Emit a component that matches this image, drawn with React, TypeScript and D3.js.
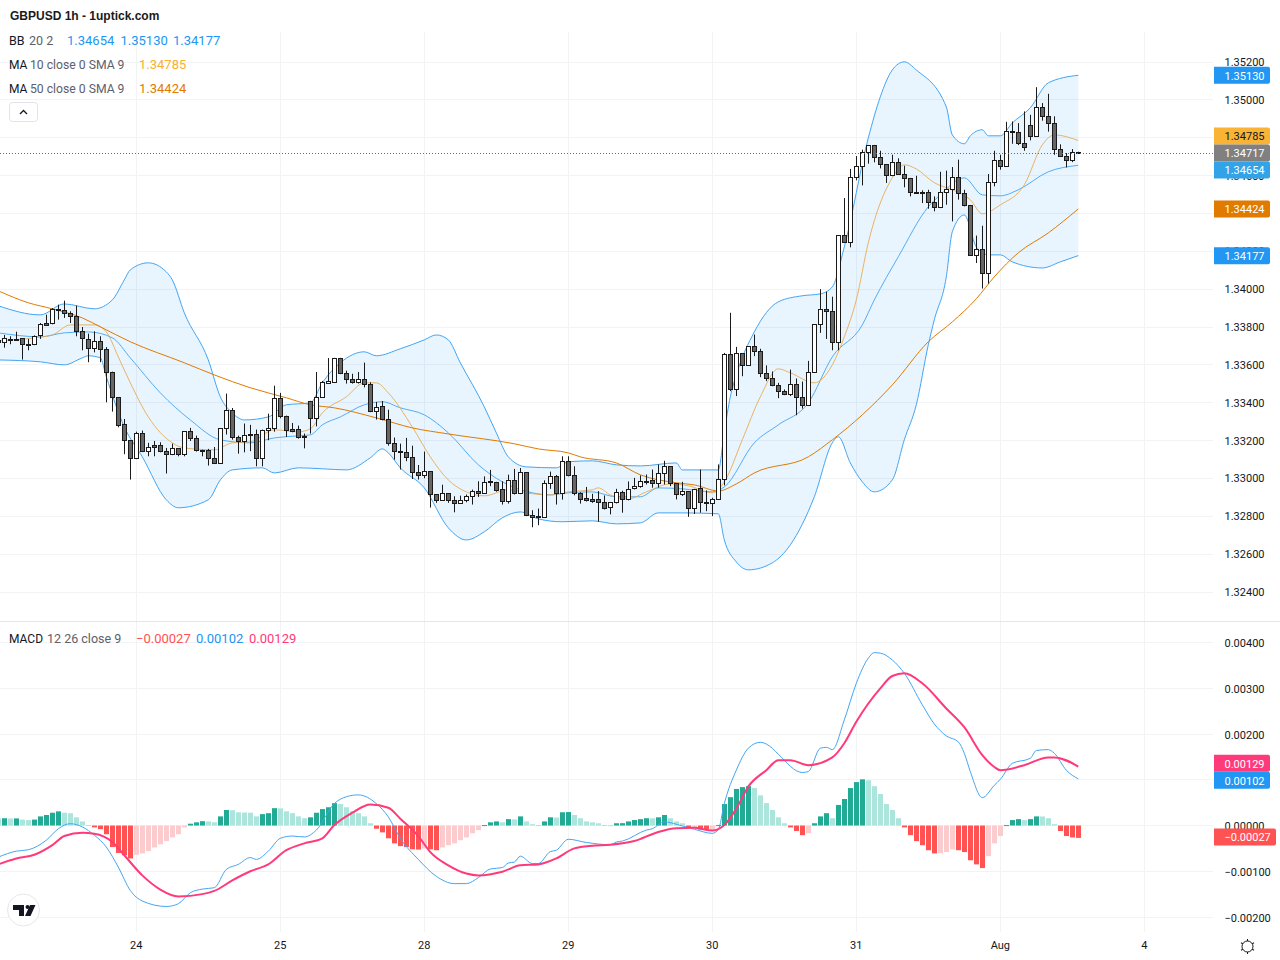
import { useEffect, useRef } from 'react';
import * as d3 from 'd3';

type Candle = [number, number, number, number];
type LinePoint = [number, number];

// open, high, low, close, hourly, starting one bar left of the frame
const candles: Candle[] = [
  [1.33730, 1.33745, 1.33700, 1.33716],
  [1.33716, 1.33758, 1.33691, 1.33737], [1.33735, 1.33751, 1.33709, 1.33732], [1.33732, 1.33775, 1.33730, 1.33735], [1.33737, 1.33738, 1.33628, 1.33705],
  [1.33705, 1.33737, 1.33677, 1.33703], [1.33705, 1.33756, 1.33704, 1.33751], [1.33753, 1.33821, 1.33737, 1.33811], [1.33816, 1.33865, 1.33808, 1.33810],
  [1.33816, 1.33900, 1.33814, 1.33895], [1.33895, 1.33918, 1.33839, 1.33890], [1.33888, 1.33939, 1.33848, 1.33869], [1.33869, 1.33883, 1.33821, 1.33858],
  [1.33856, 1.33913, 1.33751, 1.33774], [1.33774, 1.33800, 1.33677, 1.33737], [1.33735, 1.33765, 1.33614, 1.33684], [1.33684, 1.33777, 1.33666, 1.33726],
  [1.33726, 1.33751, 1.33614, 1.33679], [1.33679, 1.33694, 1.33402, 1.33557], [1.33557, 1.33564, 1.33353, 1.33425], [1.33425, 1.33426, 1.33270, 1.33281],
  [1.33283, 1.33314, 1.33128, 1.33198], [1.33198, 1.33199, 1.32994, 1.33103], [1.33103, 1.33247, 1.33102, 1.33240], [1.33239, 1.33253, 1.33139, 1.33140],
  [1.33140, 1.33188, 1.33117, 1.33166], [1.33174, 1.33198, 1.33117, 1.33166], [1.33172, 1.33191, 1.33138, 1.33140], [1.33140, 1.33161, 1.33026, 1.33124],
  [1.33124, 1.33184, 1.33123, 1.33156], [1.33156, 1.33161, 1.33117, 1.33124], [1.33124, 1.33247, 1.33117, 1.33246], [1.33246, 1.33267, 1.33198, 1.33209],
  [1.33209, 1.33226, 1.33142, 1.33145], [1.33145, 1.33152, 1.33117, 1.33143], [1.33145, 1.33156, 1.33068, 1.33103], [1.33103, 1.33166, 1.33076, 1.33077],
  [1.33077, 1.33263, 1.33076, 1.33262], [1.33262, 1.33448, 1.33232, 1.33357], [1.33357, 1.33372, 1.33205, 1.33214], [1.33214, 1.33226, 1.33131, 1.33193],
  [1.33193, 1.33290, 1.33138, 1.33225], [1.33225, 1.33283, 1.33144, 1.33230], [1.33230, 1.33258, 1.33064, 1.33103], [1.33103, 1.33258, 1.33064, 1.33251],
  [1.33251, 1.33342, 1.33202, 1.33265], [1.33265, 1.33490, 1.33247, 1.33420], [1.33420, 1.33452, 1.33318, 1.33325], [1.33325, 1.33332, 1.33219, 1.33251],
  [1.33256, 1.33293, 1.33244, 1.33249], [1.33256, 1.33279, 1.33210, 1.33214], [1.33214, 1.33237, 1.33159, 1.33224], [1.33409, 1.33410, 1.33237, 1.33314],
  [1.33314, 1.33562, 1.33275, 1.33430], [1.33430, 1.33515, 1.33429, 1.33509], [1.33504, 1.33636, 1.33503, 1.33511], [1.33509, 1.33637, 1.33508, 1.33636],
  [1.33636, 1.33637, 1.33551, 1.33552], [1.33552, 1.33569, 1.33501, 1.33525], [1.33525, 1.33553, 1.33501, 1.33509], [1.33508, 1.33562, 1.33501, 1.33525],
  [1.33525, 1.33612, 1.33481, 1.33494], [1.33494, 1.33508, 1.33350, 1.33351], [1.33351, 1.33404, 1.33311, 1.33376], [1.33378, 1.33409, 1.33307, 1.33309],
  [1.33309, 1.33363, 1.33173, 1.33186], [1.33187, 1.33216, 1.33099, 1.33140], [1.33142, 1.33184, 1.33047, 1.33135], [1.33135, 1.33214, 1.33091, 1.33108],
  [1.33108, 1.33173, 1.32997, 1.33029], [1.33029, 1.33071, 1.32994, 1.33017], [1.33017, 1.33142, 1.33001, 1.33034], [1.33034, 1.33035, 1.32846, 1.32913],
  [1.32913, 1.32914, 1.32871, 1.32885], [1.32886, 1.32967, 1.32885, 1.32918], [1.32918, 1.32923, 1.32871, 1.32886], [1.32886, 1.32906, 1.32821, 1.32869],
  [1.32869, 1.32909, 1.32868, 1.32886], [1.32886, 1.32915, 1.32874, 1.32902], [1.32902, 1.32941, 1.32862, 1.32929], [1.32930, 1.32985, 1.32902, 1.32923],
  [1.32923, 1.33011, 1.32922, 1.32981], [1.32981, 1.33045, 1.32959, 1.32983], [1.32981, 1.32982, 1.32930, 1.32937], [1.32939, 1.32985, 1.32862, 1.32876],
  [1.32876, 1.33020, 1.32867, 1.32987], [1.32987, 1.33050, 1.32915, 1.32918], [1.32918, 1.33055, 1.32917, 1.33029], [1.33029, 1.33034, 1.32801, 1.32802],
  [1.32802, 1.32832, 1.32742, 1.32795], [1.32799, 1.32841, 1.32753, 1.32795], [1.32795, 1.32990, 1.32794, 1.32974], [1.32974, 1.33036, 1.32945, 1.33008],
  [1.33008, 1.33018, 1.32862, 1.32918], [1.32918, 1.33117, 1.32888, 1.33092], [1.33092, 1.33117, 1.33011, 1.33015], [1.33013, 1.33064, 1.32911, 1.32918],
  [1.32918, 1.32927, 1.32867, 1.32890], [1.32892, 1.32955, 1.32878, 1.32881], [1.32887, 1.32919, 1.32871, 1.32880], [1.32887, 1.32933, 1.32771, 1.32871],
  [1.32871, 1.32910, 1.32836, 1.32843], [1.32845, 1.32872, 1.32810, 1.32871], [1.32871, 1.32945, 1.32868, 1.32924], [1.32924, 1.32935, 1.32819, 1.32887],
  [1.32887, 1.32984, 1.32884, 1.32944], [1.32945, 1.33003, 1.32942, 1.32956], [1.32956, 1.33016, 1.32951, 1.32982], [1.32986, 1.33021, 1.32968, 1.32981],
  [1.32988, 1.33047, 1.32951, 1.32972], [1.32972, 1.33074, 1.32951, 1.33025], [1.33025, 1.33093, 1.32968, 1.33061], [1.33061, 1.33062, 1.32959, 1.32972],
  [1.32972, 1.32973, 1.32889, 1.32914], [1.32914, 1.32982, 1.32907, 1.32929], [1.32929, 1.32933, 1.32797, 1.32840], [1.32840, 1.32945, 1.32812, 1.32944],
  [1.32945, 1.33047, 1.32819, 1.32871], [1.32871, 1.32937, 1.32827, 1.32866], [1.32866, 1.32898, 1.32801, 1.32891], [1.32891, 1.33074, 1.32889, 1.32993],
  [1.32993, 1.33663, 1.32963, 1.33653], [1.33653, 1.33875, 1.33461, 1.33468], [1.33468, 1.33695, 1.33435, 1.33658], [1.33658, 1.33659, 1.33540, 1.33595],
  [1.33595, 1.33699, 1.33594, 1.33695], [1.33695, 1.33760, 1.33646, 1.33669], [1.33669, 1.33685, 1.33535, 1.33553], [1.33553, 1.33597, 1.33514, 1.33526],
  [1.33526, 1.33565, 1.33487, 1.33489], [1.33489, 1.33505, 1.33424, 1.33457], [1.33457, 1.33470, 1.33440, 1.33445], [1.33445, 1.33575, 1.33435, 1.33494],
  [1.33494, 1.33528, 1.33334, 1.33426], [1.33426, 1.33512, 1.33369, 1.33384], [1.33384, 1.33621, 1.33383, 1.33558], [1.33558, 1.33812, 1.33557, 1.33811],
  [1.33811, 1.34000, 1.33769, 1.33890], [1.33890, 1.33987, 1.33737, 1.33880], [1.33880, 1.33960, 1.33677, 1.33716], [1.33716, 1.34284, 1.33677, 1.34283],
  [1.34283, 1.34481, 1.34244, 1.34249], [1.34249, 1.34635, 1.34221, 1.34592], [1.34592, 1.34703, 1.34575, 1.34650], [1.34650, 1.34737, 1.34548, 1.34723],
  [1.34723, 1.34762, 1.34663, 1.34761], [1.34761, 1.34762, 1.34670, 1.34698], [1.34698, 1.34731, 1.34638, 1.34656], [1.34656, 1.34657, 1.34561, 1.34598],
  [1.34598, 1.34710, 1.34597, 1.34671], [1.34671, 1.34691, 1.34603, 1.34608], [1.34608, 1.34652, 1.34538, 1.34587], [1.34587, 1.34588, 1.34490, 1.34508],
  [1.34509, 1.34599, 1.34504, 1.34506], [1.34513, 1.34522, 1.34455, 1.34506], [1.34513, 1.34525, 1.34425, 1.34460], [1.34460, 1.34490, 1.34411, 1.34429],
  [1.34429, 1.34620, 1.34428, 1.34513], [1.34513, 1.34626, 1.34446, 1.34524], [1.34524, 1.34645, 1.34358, 1.34592], [1.34592, 1.34684, 1.34473, 1.34503],
  [1.34503, 1.34525, 1.34437, 1.34444], [1.34444, 1.34445, 1.34179, 1.34180], [1.34180, 1.34283, 1.34138, 1.34207], [1.34207, 1.34335, 1.34003, 1.34085],
  [1.34085, 1.34608, 1.34029, 1.34566], [1.34566, 1.34731, 1.34543, 1.34682], [1.34682, 1.34710, 1.34631, 1.34650], [1.34650, 1.34884, 1.34649, 1.34835],
  [1.34835, 1.34886, 1.34768, 1.34830], [1.34830, 1.34877, 1.34761, 1.34767], [1.34767, 1.34939, 1.34731, 1.34749], [1.34862, 1.34921, 1.34786, 1.34809],
  [1.34809, 1.35067, 1.34808, 1.34957], [1.34957, 1.34983, 1.34890, 1.34914], [1.34914, 1.35032, 1.34832, 1.34877], [1.34877, 1.34913, 1.34710, 1.34740],
  [1.34740, 1.34765, 1.34698, 1.34703], [1.34703, 1.34719, 1.34643, 1.34677], [1.34677, 1.34740, 1.34671, 1.34724], [1.34724, 1.34726, 1.34714, 1.34717],
];

const bbUpper: LinePoint[] = [
  [-1, 1.33912], [6, 1.33864], [10, 1.33922], [15, 1.33896], [18, 1.33943], [20, 1.34049], [21, 1.34102], [24, 1.34139], [27, 1.34091], [28, 1.34049],
  [30, 1.33875], [34, 1.33626], [36, 1.33431], [38, 1.33346], [40, 1.33309], [44, 1.33325], [47, 1.33389], [51, 1.33399], [53, 1.33505], [56, 1.33611],
  [60, 1.33669], [62, 1.33648], [66, 1.33685], [70, 1.33732], [72, 1.33758], [74, 1.33732], [76, 1.33611], [80, 1.33378], [82, 1.33241], [84, 1.33114],
  [87, 1.33061], [92, 1.33056], [94, 1.33088], [98, 1.33093], [102, 1.33072], [106, 1.33066], [112, 1.33082], [113, 1.33045], [119, 1.33045], [120, 1.33246],
  [121, 1.33431], [122, 1.33547], [125, 1.33774], [129, 1.33933], [133, 1.33965], [136, 1.33975], [138, 1.34012], [140, 1.34223], [144, 1.34799], [146, 1.35016],
  [148, 1.35158], [150, 1.35201], [152, 1.35158], [157, 1.34963], [158, 1.34815], [160, 1.34768], [161, 1.34810], [163, 1.34842], [164, 1.34810], [166, 1.34810],
  [168, 1.34878], [171, 1.34958], [174, 1.35090], [179, 1.35130],
];
const bbLower: LinePoint[] = [
  [-1, 1.33626], [6, 1.33616], [10, 1.33600], [13, 1.33637], [14, 1.33648], [16, 1.33637], [17, 1.33537], [20, 1.33272], [23, 1.33114], [27, 1.32887],
  [29, 1.32845], [34, 1.32887], [36, 1.32992], [38, 1.33045], [43, 1.33056], [45, 1.33029], [49, 1.33056], [53, 1.33051], [57, 1.33045], [61, 1.33109],
  [63, 1.33156], [64, 1.33135], [66, 1.33056], [70, 1.32950], [74, 1.32739], [77, 1.32675], [80, 1.32718], [83, 1.32792], [86, 1.32823], [89, 1.32786],
  [93, 1.32771], [98, 1.32776], [102, 1.32760], [106, 1.32765], [109, 1.32818], [113, 1.32818], [119, 1.32813], [120, 1.32675], [122, 1.32559], [124, 1.32517],
  [128, 1.32554], [131, 1.32649], [135, 1.32903], [138, 1.33188], [139, 1.33220], [141, 1.33082], [143, 1.32982], [145, 1.32929], [148, 1.32992], [150, 1.33204],
  [152, 1.33389], [154, 1.33706], [155, 1.33838], [157, 1.34065], [158, 1.34303], [160, 1.34392], [162, 1.34223], [164, 1.34181], [166, 1.34181], [168, 1.34144],
  [173, 1.34112], [176, 1.34144], [179, 1.34177],
];
const bbBasis: LinePoint[] = [
  [-1, 1.33769], [6, 1.33748], [10, 1.33769], [14, 1.33774], [18, 1.33743], [21, 1.33637], [26, 1.33452], [31, 1.33309], [36, 1.33204], [41, 1.33188],
  [45, 1.33214], [49, 1.33225], [51, 1.33230], [53, 1.33283], [56, 1.33325], [60, 1.33389], [63, 1.33405], [66, 1.33373], [70, 1.33336], [74, 1.33241],
  [79, 1.33072], [83, 1.32982], [88, 1.32924], [91, 1.32913], [94, 1.32924], [98, 1.32929], [102, 1.32903], [106, 1.32903], [109, 1.32950], [113, 1.32945],
  [118, 1.32929], [120, 1.32955], [125, 1.33188], [129, 1.33283], [134, 1.33399], [138, 1.33642], [143, 1.33811], [145, 1.33943], [149, 1.34171], [154, 1.34435],
  [156, 1.34498], [160, 1.34588], [163, 1.34498], [166, 1.34493], [169, 1.34525], [174, 1.34620], [179, 1.34654],
];
const ma10: LinePoint[] = [
  [-1, 1.33727], [5, 1.33743], [8, 1.33758], [11, 1.33811], [15, 1.33811], [17, 1.33774], [19, 1.33642], [21, 1.33505], [24, 1.33325], [28, 1.33188],
  [30, 1.33161], [35, 1.33151], [38, 1.33188], [41, 1.33193], [45, 1.33257], [49, 1.33246], [51, 1.33262], [53, 1.33346], [57, 1.33431], [60, 1.33505],
  [62, 1.33505], [64, 1.33452], [68, 1.33272], [71, 1.33114], [74, 1.32992], [77, 1.32929], [80, 1.32908], [84, 1.32940], [88, 1.32919], [91, 1.32913],
  [94, 1.32929], [98, 1.32940], [99, 1.32950], [101, 1.32913], [104, 1.32892], [107, 1.32929], [111, 1.32971], [114, 1.32961], [118, 1.32924], [120, 1.32982],
  [123, 1.33204], [126, 1.33431], [129, 1.33579], [131, 1.33558], [135, 1.33505], [138, 1.33600], [140, 1.33748], [142, 1.33943], [144, 1.34245], [148, 1.34588],
  [150, 1.34657], [152, 1.34635], [155, 1.34562], [158, 1.34525], [161, 1.34472], [163, 1.34398], [166, 1.34445], [170, 1.34551], [173, 1.34762], [175, 1.34815],
  [179, 1.34785],
];
const ma50: LinePoint[] = [
  [-1, 1.33991], [4, 1.33928], [8, 1.33896], [13, 1.33848], [16, 1.33801], [21, 1.33722], [30, 1.33611], [35, 1.33547], [41, 1.33479], [47, 1.33426],
  [51, 1.33389], [55, 1.33373], [62, 1.33320], [68, 1.33267], [74, 1.33235], [85, 1.33183], [89, 1.33156], [94, 1.33135], [96, 1.33114], [102, 1.33082],
  [106, 1.33019], [112, 1.32977], [115, 1.32966], [119, 1.32934], [122, 1.32971], [125, 1.33029], [134, 1.33114], [138, 1.33204], [143, 1.33336], [148, 1.33494],
  [154, 1.33722], [158, 1.33827], [162, 1.33949], [165, 1.34065], [169, 1.34192], [174, 1.34297], [179, 1.34424],
];

// MACD pane, everything in units of 0.00001
const histogram = [
  15.3, 16, 15.3, 15.6, 13, 12, 13, 20, 23, 28, 31, 28, 27, 18, 9, 1, -4, -8, -19, -47, -60, -65, -72, -64, -61, -56, -48, -41, -34, -26, -19, -4,
  4, 7, 9.5, 9, 7, 20, 34, 33.5, 29, 28.5, 28, 20, 25, 27, 38, 37.5, 31, 27, 20, 16, 18, 28, 36, 40, 49, 47, 40, 31, 27, 20, 5,
  -7, -15, -28, -39, -45, -47, -52, -52.5, -50, -52, -54, -48, -43, -39, -32, -26, -17, -10,
  1, 7, 9, 7, 14, 13.5, 20, 9, 3, 1, 9, 18, 17.5, 29, 29.5, 23, 16, 9, 7, 5, 1, 0.8, 5, 5.2, 9, 12, 14, 16, 15.8, 18, 23, 16, 9, 5,
  -4, -3.8, -9, -9.2, -9, 1, 47, 62, 80, 84, 86, 82, 66, 49, 34, 18, 5, -4, -12, -21, -17,
  5, 20, 27, 16, 45, 58, 82, 95, 101, 99, 86, 69, 47, 34, 16,
  -4, -21, -34, -43, -54, -61, -60.5, -58, -52, -54, -58, -76, -85, -93, -67, -39, -23,
  1, 12, 14, 12, 14, 20, 19.8, 16, 3, -12, -23, -26, -27,
];
const macdLine: LinePoint[] = [
  [-1, -69], [2, -56], [4, -53], [7, -32], [9, -7], [11, 4], [13, -3], [15, -21], [17, -47], [19, -91], [21, -142], [23, -165], [27, -177], [29, -171],
  [31, -147], [33, -139], [35, -136], [37, -96], [39, -85], [41, -70], [42, -74], [44, -56], [46, -28], [48, -23], [50, -25], [52, -10], [55, 48], [57, 63],
  [59, 67], [62, 48], [64, 19], [66, -28], [69, -74], [72, -111], [75, -127], [77, -127], [79, -114], [81, -95], [83, -92], [84, -82], [85, -80], [86, -67],
  [88, -83], [89, -83], [91, -57], [92, -54], [94, -30], [97, -37], [101, -42], [102, -36], [103, -34], [107, -10], [108, -7], [110, 8], [113, -1], [115, -8],
  [118, -17], [119, -9], [120, 48], [122, 121], [124, 169], [126, 182], [128, 169], [129, 156], [133, 116], [134, 118], [136, 169], [137, 171], [138, 166],
  [140, 231], [142, 311], [144, 366], [145, 378], [146, 377], [148, 362], [150, 333], [153, 264], [155, 222], [157, 196], [159, 183], [160, 158], [161, 118],
  [163, 61], [165, 88], [166, 101], [168, 136], [171, 147], [172, 164], [174, 166], [175, 158], [177, 121], [179, 102],
];
const signalLine: LinePoint[] = [
  [-1, -85], [2, -72], [5, -64], [8, -43], [10, -23], [13, -16], [15, -18], [18, -36], [20, -65], [23, -109], [26, -140], [29, -155], [33, -150], [35, -143],
  [38, -120], [41, -100], [44, -85], [47, -54], [50, -39], [53, -28], [55, 1], [58, 28], [61, 46], [64, 39], [66, 15], [69, -23], [71, -58], [74, -87], [77, -105],
  [79, -109], [83, -101], [86, -87], [89, -85], [92, -72], [95, -50], [98, -44], [101, -42], [105, -34], [109, -14], [112, -6], [115, -5], [118, -11], [120, 1],
  [122, 37], [124, 85], [127, 121], [129, 143], [131, 143], [134, 132], [138, 149], [140, 180], [142, 227], [146, 300], [148, 327], [150, 333], [153, 311],
  [157, 256], [160, 215], [163, 154], [165, 128], [166, 121], [170, 132], [174, 149], [175, 149], [179, 129],
];

const priceTicks = [1.352, 1.35, 1.348, 1.346, 1.344, 1.342, 1.34, 1.338, 1.336, 1.334, 1.332, 1.33, 1.328, 1.326, 1.324];
const macdTicks = [0.004, 0.003, 0.002, 0.001, 0, -0.001, -0.002];
const timeTicks: [number, string][] = [[22, '24'], [46, '25'], [70, '28'], [94, '29'], [118, '30'], [142, '31'], [166, 'Aug'], [190, '4']];

const lastClose = 1.34717;
const bbValues = [1.34654, 1.3513, 1.34177];
const ma10Last = 1.34785;
const ma50Last = 1.34424;
const macdValues = [-0.00027, 0.00102, 0.00129];

const UI_FONT = 'Roboto, sans-serif';
const BLUE = '#2196f3';
const LINE_BLUE = '#42a5f5';
const MA10_COLOR = '#f9b02a';
const MA50_COLOR = '#e07b00';
const SIGNAL_COLOR = '#ff3a7a';
const RED = '#ff5252';
const TEXT = '#131722';
const MUTED = '#5d606b';
const GRID = '#f2f3f5';
const AXIS_X = 1213;
const AXIS_FONT_SIZE = '11px';

interface Tag {
  y: number;
  value: number;
  fill: string;
  text: string;
}

const fmt = (v: number) => (v < 0 ? '\u2212' : '') + Math.abs(v).toFixed(5);

// push overlapping axis tags apart
const spreadTags = (tags: Tag[], h: number) => {
  const sorted = [...tags].sort((a, b) => a.y - b.y);
  for (let n = 0; n < 60; n++) {
    for (let i = 1; i < sorted.length; i++) {
      const gap = sorted[i].y - sorted[i - 1].y;
      if (gap < h) {
        sorted[i - 1].y -= (h - gap) / 2;
        sorted[i].y += (h - gap) / 2;
      }
    }
  }
  return sorted;
};

const App = () => {
  const svgRef = useRef<SVGSVGElement>(null);

  useEffect(() => {
    if (!svgRef.current) return;
    const svg = d3.select(svgRef.current);
    svg.selectAll('*').remove();

    const x = d3.scaleLinear().domain([0, 179]).range([4.3, 1078.3]);
    const y = d3.scaleLinear().domain([1.352, 1.324]).range([62, 592]);
    const yMacd = d3.scaleLinear().domain([0.004, -0.002]).range([642.6, 917]);
    const crisp = (v: number) => Math.floor(v) + 0.5;

    // 网格
    const grid = svg.append('g').attr('stroke', GRID).attr('stroke-width', 1);
    timeTicks.forEach(([bar]) => {
      grid.append('line').attr('x1', crisp(x(bar))).attr('x2', crisp(x(bar))).attr('y1', 32).attr('y2', 932);
    });
    priceTicks.forEach((p) => {
      grid.append('line').attr('x1', 0).attr('x2', AXIS_X).attr('y1', crisp(y(p))).attr('y2', crisp(y(p)));
    });
    macdTicks.forEach((p) => {
      grid.append('line').attr('x1', 0).attr('x2', AXIS_X).attr('y1', crisp(yMacd(p))).attr('y2', crisp(yMacd(p)));
    });
    svg.append('line').attr('x1', 0).attr('x2', 1280).attr('y1', 621.5).attr('y2', 621.5).attr('stroke', '#e4e6eb');

    const priceLine = d3
      .line<LinePoint>()
      .x((d) => x(d[0]))
      .y((d) => y(d[1]))
      .curve(d3.curveMonotoneX);

    // Bollinger fill: upper edge out, lower edge back, same curve as the lines
    const lowerBack = (priceLine([...bbLower].reverse()) ?? '').replace(/^M/, 'L');
    svg
      .append('path')
      .attr('d', `${priceLine(bbUpper)}${lowerBack}Z`)
      .attr('fill', BLUE)
      .attr('fill-opacity', 0.1);

    const overlays: [LinePoint[], string, number][] = [
      [bbUpper, LINE_BLUE, 1],
      [bbLower, LINE_BLUE, 1],
      [bbBasis, LINE_BLUE, 0.9],
      [ma10, '#eaa748', 0.85],
      [ma50, MA50_COLOR, 1],
    ];
    overlays.forEach(([points, color, opacity]) => {
      svg
        .append('path')
        .attr('d', priceLine(points))
        .attr('fill', 'none')
        .attr('stroke', color)
        .attr('stroke-opacity', opacity)
        .attr('stroke-width', 1);
    });

    // 蜡烛
    const candleG = svg.append('g');
    candles.forEach((c, idx) => {
      const [open, high, low, close] = c;
      const cx = crisp(x(idx - 1));
      candleG
        .append('line')
        .attr('x1', cx)
        .attr('x2', cx)
        .attr('y1', y(high))
        .attr('y2', y(low))
        .attr('stroke', '#1a1a1a');
      const top = crisp(y(Math.max(open, close)));
      const bottom = crisp(y(Math.min(open, close)));
      candleG
        .append('rect')
        .attr('x', cx - 2)
        .attr('width', 4)
        .attr('y', top)
        .attr('height', Math.max(bottom - top, 1))
        .attr('fill', close >= open ? '#ffffff' : '#666666')
        .attr('stroke', '#1a1a1a');
    });

    // last price line
    svg
      .append('line')
      .attr('x1', 0)
      .attr('x2', AXIS_X)
      .attr('y1', crisp(y(lastClose)))
      .attr('y2', crisp(y(lastClose)))
      .attr('stroke', '#6a6d78')
      .attr('stroke-dasharray', '1 2');

    // MACD histogram
    const hist = svg.append('g');
    histogram.forEach((v, idx) => {
      const prev = idx > 0 ? histogram[idx - 1] : v;
      const value = v / 1e5;
      const color = v >= 0 ? (v > prev ? '#22ab94' : '#ace5dc') : v < prev ? RED : '#fccbcd';
      const y0 = yMacd(0);
      const y1 = yMacd(value);
      hist
        .append('rect')
        .attr('x', Math.floor(x(idx - 1)) - 2)
        .attr('width', 5)
        .attr('y', Math.min(y0, y1))
        .attr('height', Math.max(Math.abs(y1 - y0), 1))
        .attr('fill', color);
    });

    const macdPath = d3
      .line<LinePoint>()
      .x((d) => x(d[0]))
      .y((d) => yMacd(d[1] / 1e5))
      .curve(d3.curveMonotoneX);
    svg.append('path').attr('d', macdPath(macdLine)).attr('fill', 'none').attr('stroke', LINE_BLUE).attr('stroke-width', 1);
    svg.append('path').attr('d', macdPath(signalLine)).attr('fill', 'none').attr('stroke', SIGNAL_COLOR).attr('stroke-width', 2);

    // axes
    const styleAxis = (g: d3.Selection<SVGGElement, unknown, null, undefined>) => {
      g.select('.domain').remove();
      g.selectAll('text').attr('fill', TEXT).style('font-family', UI_FONT).style('font-size', AXIS_FONT_SIZE);
    };
    svg
      .append('g')
      .attr('transform', 'translate(1224.5,0.5)')
      .call(d3.axisRight(y).tickValues(priceTicks).tickSize(0).tickPadding(0).offset(0).tickFormat((d) => fmt(+d)))
      .call(styleAxis);
    svg
      .append('g')
      .attr('transform', 'translate(1224.5,1)')
      .call(d3.axisRight(yMacd).tickValues(macdTicks).tickSize(0).tickPadding(0).offset(0).tickFormat((d) => fmt(+d)))
      .call(styleAxis);
    const timeAxis = d3
      .axisBottom(x)
      .tickValues(timeTicks.map((d) => d[0]))
      .tickSize(0)
      .tickPadding(0)
      .offset(0)
      .tickFormat((d) => timeTicks.find((t) => t[0] === +d)?.[1] ?? '');
    svg.append('g').attr('transform', 'translate(0,941)').call(timeAxis).call(styleAxis);

    // axis tags
    const drawTags = (tags: Tag[]) => {
      tags.forEach((t) => {
        const wide = t.value < 0;
        svg
          .append('path')
          .attr(
            'd',
            `M1214,${t.y - 8.5}h${wide ? 60 : 54}a2,2 0 0 1 2,2v13a2,2 0 0 1 -2,2h-${wide ? 60 : 54}z`,
          )
          .attr('fill', t.fill);
        svg
          .append('text')
          .attr('x', 1224.5)
          .attr('y', t.y + 0.5)
          .attr('dy', '.35em')
          .attr('fill', t.text)
          .style('font-family', UI_FONT)
          .style('font-size', AXIS_FONT_SIZE)
          .text(fmt(t.value));
      });
    };
    const priceTag = (value: number, fill: string, text = '#ffffff'): Tag => ({ y: y(value), value, fill, text });
    drawTags(
      spreadTags(
        [
          priceTag(bbValues[1], BLUE),
          priceTag(ma10Last, '#f9b335', TEXT),
          priceTag(lastClose, '#808080'),
          priceTag(bbValues[0], '#33a3e8'),
          priceTag(ma50Last, MA50_COLOR),
          priceTag(bbValues[2], BLUE),
        ],
        17,
      ),
    );
    const macdTag = (value: number, fill: string): Tag => ({ y: yMacd(value) - 1, value, fill, text: '#ffffff' });
    drawTags(
      spreadTags([macdTag(macdValues[2], SIGNAL_COLOR), macdTag(macdValues[1], BLUE), macdTag(macdValues[0], RED)], 17),
    );

    // legend
    const legend = (px: number, py: number, str: string, fill: string, size = 13, font = UI_FONT, weight = 400) => {
      svg
        .append('text')
        .attr('x', px)
        .attr('y', py)
        .attr('dy', '.35em')
        .attr('fill', fill)
        .style('font-family', font)
        .style('font-size', `${size}px`)
        .style('font-weight', weight)
        .text(str);
    };
    legend(10, 15.5, 'GBPUSD 1h - 1uptick.com', '#1a1a1a', 12, '"Liberation Sans", Arial, sans-serif', 700);
    legend(9, 40.5, 'BB', TEXT, 12.5);
    legend(29, 40.5, '20 2', MUTED, 12.5);
    legend(67, 40.5, bbValues[0].toFixed(5), BLUE);
    legend(120.5, 40.5, bbValues[1].toFixed(5), BLUE);
    legend(173, 40.5, bbValues[2].toFixed(5), BLUE);
    legend(9, 64.5, 'MA', TEXT, 12);
    legend(30, 64.5, '10 close 0 SMA 9', MUTED, 12.2);
    legend(139, 64.5, ma10Last.toFixed(5), MA10_COLOR);
    legend(9, 88.5, 'MA', TEXT, 12);
    legend(30, 88.5, '50 close 0 SMA 9', MUTED, 12.2);
    legend(139, 88.5, ma50Last.toFixed(5), MA50_COLOR);
    legend(9, 638.5, 'MACD', TEXT, 12);
    legend(47, 638.5, '12 26 close 9', MUTED, 12.5);
    legend(136, 638.5, fmt(macdValues[0]), RED);
    legend(196, 638.5, macdValues[1].toFixed(5), BLUE);
    legend(249, 638.5, macdValues[2].toFixed(5), SIGNAL_COLOR);

    // collapse button
    svg.append('rect').attr('x', 9.5).attr('y', 102.5).attr('width', 28).attr('height', 19).attr('rx', 3).attr('fill', '#fff').attr('stroke', '#e0e3eb');
    svg.append('path').attr('d', 'M20,114 L23.5,110.5 L27,114').attr('fill', 'none').attr('stroke', TEXT).attr('stroke-width', 1.3);

    // logo
    svg.append('circle').attr('cx', 23.5).attr('cy', 910).attr('r', 16).attr('fill', '#fff').attr('stroke', '#e6e7ea').attr('stroke-width', 1);
    svg.append('path').attr('d', 'M13,905 H24 V916 H19 V910 H13 Z M30,905 H35.5 L30.5,916 H25 Z').attr('fill', '#131722');
    svg.append('circle').attr('cx', 27.5).attr('cy', 907).attr('r', 2).attr('fill', '#131722');

    // settings icon
    const gear = svg.append('g').attr('transform', 'translate(1247.5,946.5)').attr('stroke', TEXT).attr('fill', 'none');
    gear.append('circle').attr('r', 5.5).attr('stroke-width', 1);
    d3.range(0, 360, 60).forEach((a) => {
      gear.append('line').attr('y1', -5.5).attr('y2', -7.5).attr('transform', `rotate(${a})`);
    });
  }, []);

  return (
    <svg
      ref={svgRef}
      width={1280}
      height={960}
      style={{ position: 'fixed', left: 0, top: 0, display: 'block', background: '#ffffff' }}
    />
  );
};

export default App;
